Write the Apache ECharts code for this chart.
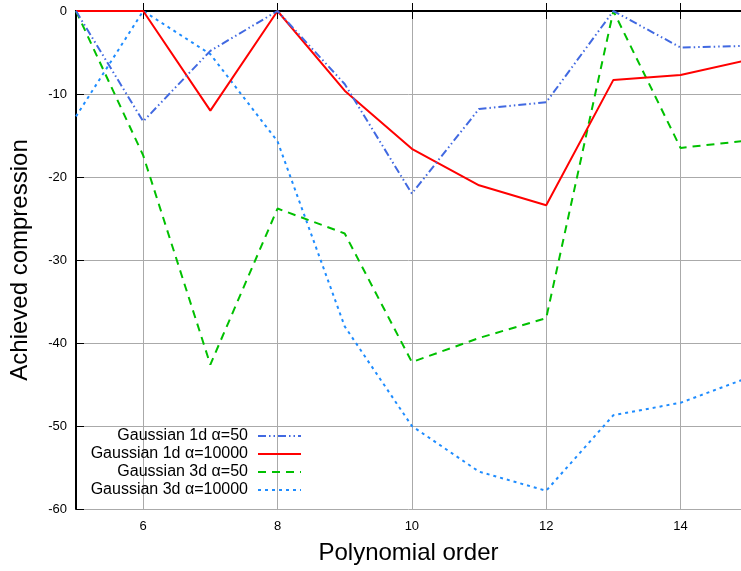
<!DOCTYPE html>
<html>
<head>
<meta charset="utf-8">
<script src="https://cdn.jsdelivr.net/npm/echarts@6/dist/echarts.min.js"></script>
<style>
  html, body { margin: 0; padding: 0; background: #fff; }
  #chart { width: 741px; height: 571px; }
</style>
</head>
<body>
<div id="chart"></div>
<script>
// polynomial order (x) and achieved compression per series
var orders = [5, 6, 7, 8, 9, 10, 11, 12, 13, 14, 15];
var g1d50 = [0, -13.3, -4.8, 0, -8.8, -22.0, -11.8, -11.0, 0, -4.4, -4.2];
var g1d10000 = [0, 0, -12.0, 0, -9.6, -16.6, -21.0, -23.4, -8.3, -7.7, -5.9];
var g3d50 = [0, -17.4, -42.6, -23.8, -26.8, -42.3, -39.4, -37.0, 0, -16.5, -15.6];
var g3d10000 = [-12.7, 0, -5.2, -15.7, -38.0, -50.0, -55.5, -57.8, -48.7, -47.2, -44.2];
var xTicks = [6, 8, 10, 12, 14];
var seriesNames = ['Gaussian 1d α=50', 'Gaussian 1d α=10000', 'Gaussian 3d α=50', 'Gaussian 3d α=10000'];

function pairs(ys) {
    var out = [];
    for (var i = 0; i < orders.length; i++) {
        out.push([orders[i], ys[i]]);
    }
    return out;
}

var chart = echarts.init(document.getElementById('chart'));
var font = 'Liberation Sans, Arial, sans-serif';

var option = {
    animation: false,
    backgroundColor: '#fff',
    grid: { left: 74, right: 0, top: 11, bottom: 62 },
    legend: {
        data: seriesNames,
        orient: 'vertical',
        align: 'right', // text first, sample line after it
        right: 439,
        top: 428,
        padding: 0,
        itemGap: 2,
        itemWidth: 43,
        itemHeight: 14,
        itemStyle: { opacity: 0 }, // keep only the line sample
        textStyle: { fontFamily: font, fontSize: 16, color: '#000', padding: [0, 5, 0, 0] }
    },
    xAxis: [{
        type: 'value',
        min: 5,
        max: 14.9,
        name: 'Polynomial order',
        nameLocation: 'middle',
        nameGap: 32,
        nameTextStyle: { fontFamily: font, fontSize: 24, color: '#000' },
        axisLine: { lineStyle: { color: '#000', width: 2 } },
        axisTick: { inside: true, length: 8, customValues: xTicks, lineStyle: { color: '#000' } },
        axisLabel: { customValues: xTicks, margin: 11, fontFamily: font, fontSize: 13, color: '#000' },
        splitLine: { show: true, lineStyle: { color: '#aaa', width: 1 } }
    }, {
        type: 'value',
        position: 'top',
        min: 5,
        max: 14.9,
        axisLine: { lineStyle: { color: '#000', width: 2 } },
        axisTick: { inside: true, length: 8, customValues: xTicks, lineStyle: { color: '#000' } },
        axisLabel: { show: false },
        splitLine: { show: false }
    }],
    yAxis: {
        type: 'value',
        min: -60,
        max: 0,
        interval: 10,
        name: 'Achieved compression',
        nameLocation: 'middle',
        nameGap: 44,
        nameTextStyle: { fontFamily: font, fontSize: 24, color: '#000' },
        axisLine: { show: true, lineStyle: { color: '#000', width: 2 } },
        axisTick: { show: true, inside: true, length: 8, lineStyle: { color: '#000' } },
        axisLabel: { margin: 9, fontFamily: font, fontSize: 13, color: '#000' },
        splitLine: { show: true, lineStyle: { color: '#aaa', width: 1 } }
    },
    series: [{
        name: seriesNames[0],
        type: 'line',
        symbol: 'none',
        data: pairs(g1d50),
        itemStyle: { color: '#4169e1' },
        lineStyle: { color: '#4169e1', width: 2, type: [8, 3, 1.5, 3, 1.5, 3] },
        z: 4
    }, {
        name: seriesNames[1],
        type: 'line',
        symbol: 'none',
        data: pairs(g1d10000),
        itemStyle: { color: '#ff0000' },
        lineStyle: { color: '#ff0000', width: 2 },
        z: 3
    }, {
        name: seriesNames[2],
        type: 'line',
        symbol: 'none',
        data: pairs(g3d50),
        itemStyle: { color: '#00c000' },
        lineStyle: { color: '#00c000', width: 2, type: [8, 6] },
        z: 2
    }, {
        name: seriesNames[3],
        type: 'line',
        symbol: 'none',
        data: pairs(g3d10000),
        itemStyle: { color: '#1e8cff' },
        lineStyle: { color: '#1e8cff', width: 2, type: [3, 4] },
        z: 1
    }]
};
chart.setOption(option);
</script>
</body>
</html>
